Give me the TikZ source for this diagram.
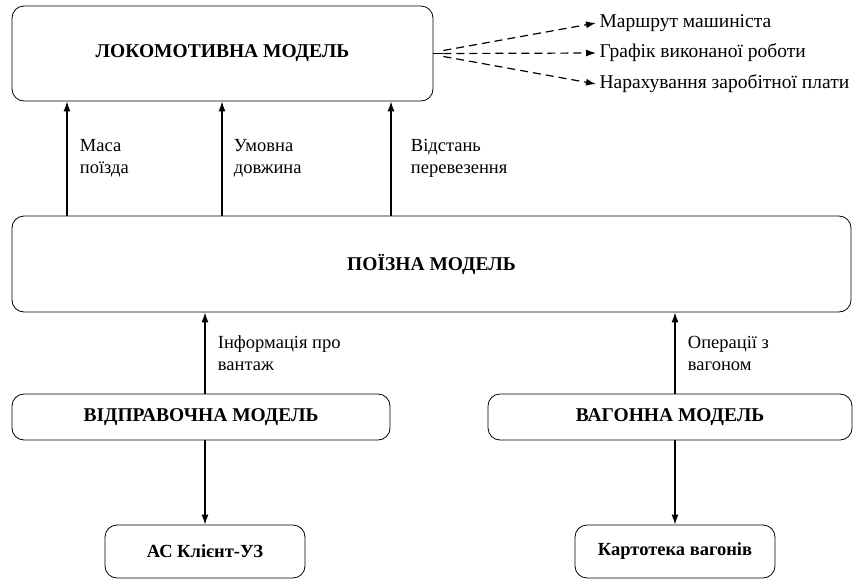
\documentclass[tikz,border=0pt]{standalone}
\usepackage{fontspec}
\setmainfont{Liberation Serif}
\usetikzlibrary{arrows.meta,positioning}

\begin{document}
\begin{tikzpicture}[
  x=1pt, y=-1pt,
  modelbox/.style={draw, rounded corners=12pt, align=center, line width=0.8pt,
                   font=\fontsize{19.5}{22}\selectfont\bfseries},
  srcbox/.style={modelbox, minimum width=200pt, minimum height=53pt,
                 font=\fontsize{18.5}{20}\selectfont\bfseries},
  arr/.style={-{Latex[length=10pt,width=7pt]}, line width=1.2pt},
  darr/.style={arr, dash pattern=on 8pt off 5pt},
  lnote/.style={font=\fontsize{18.5}{22}\selectfont, align=left},
  onote/.style={font=\fontsize{19.5}{20}\selectfont, anchor=west}
]
\useasboundingbox (0,0) rectangle (854,587);

\node[modelbox, minimum width=421pt, minimum height=95pt] (loco) at (222.5,53.5) {ЛОКОМОТИВНА МОДЕЛЬ};
\node[modelbox, minimum width=839pt, minimum height=96pt] (train) at (431.5,264) {ПОЇЗНА МОДЕЛЬ};
\node[modelbox, minimum width=378pt, minimum height=46pt] (disp) at (201,417) {ВІДПРАВОЧНА МОДЕЛЬ};
\node[modelbox, minimum width=364pt, minimum height=46pt] (wagon) at (670,417) {ВАГОННА МОДЕЛЬ};
\node[srcbox] (ac) at (205,551.5) {АС Клієнт-УЗ};
\node[srcbox] (cards) at (675,551.5) {Картотека вагонів};

% train model -> locomotive model
\draw[arr] (train.north -| 67,0) -- (loco.south -| 67,0)
  node[midway, right=9pt, lnote] (mass) {Маса\\поїзда};
\draw[arr] (train.north -| 222,0) -- (loco.south -| 222,0)
  node[midway, right=8pt, lnote] (len) {Умовна\\довжина};
\draw[arr] (train.north -| 391,0) -- (loco.south -| 391,0)
  node[midway, right=16pt, lnote] (dist) {Відстань\\перевезення};

\draw[arr] (disp.north -| ac.north) -- (train.south -| ac.north)
  node[midway, right=9pt, lnote] (cargo) {Інформація про\\вантаж};
\draw[arr] (wagon.north -| cards.north) -- (train.south -| cards.north)
  node[midway, right=9pt, lnote] (ops) {Операції з\\вагоном};

\draw[arr] (disp.south -| ac.north) -- (ac.north);
\draw[arr] (wagon.south -| cards.north) -- (cards.north);

% outputs of the locomotive model
\node[onote] (route) at (596,23) {Маршрут машиніста};
\node[onote] (sched) at (596,53) {Графік виконаної роботи};
\node[onote] (pay)   at (596,84) {Нарахування заробітної плати};
\coordinate[right=10pt of loco.east] (hub);
\draw[line width=1.2pt] (loco.east) -- (hub);
\draw[darr] ([yshift=3pt]hub) -- (route.west);
\draw[darr] (hub) -- (sched.west);
\draw[darr] ([yshift=-3pt]hub) -- (pay.west);
\end{tikzpicture}
\end{document}
